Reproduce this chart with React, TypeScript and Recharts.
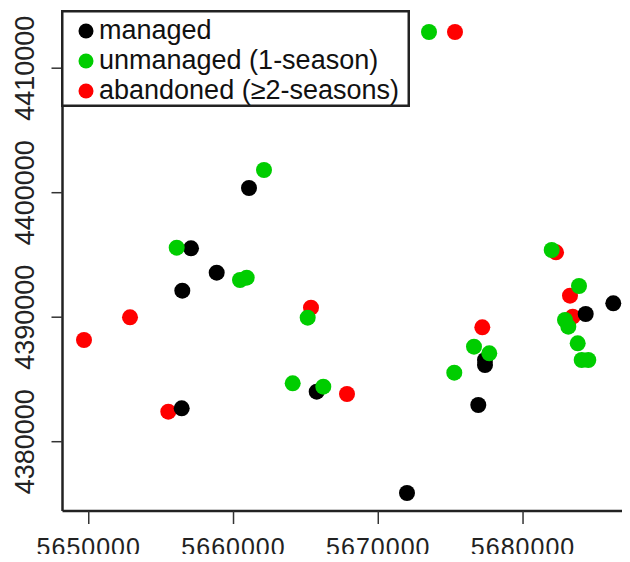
import React from 'react';
import { ScatterChart, Scatter, XAxis, YAxis, Legend } from 'recharts';

// Site coordinates (easting, northing) for each management class
const managedSites: [number, number][] = [
  [5661069, 4400377],
  [5657063, 4395534],
  [5658838, 4393574],
  [5656462, 4392128],
  [5656420, 4382683],
  [5665746, 4384016],
  [5671984, 4375880],
  [5676909, 4382948],
  [5677372, 4386160],
  [5677372, 4386562],
  [5684329, 4390257],
  [5686235, 4391116],
];

const unmanagedSites: [number, number][] = [
  [5673504, 4412907],
  [5662106, 4401823],
  [5656075, 4395582],
  [5660448, 4392988],
  [5660911, 4393172],
  [5665124, 4389960],
  [5664088, 4384691],
  [5666202, 4384418],
  [5675251, 4385542],
  [5676612, 4387630],
  [5677669, 4387100],
  [5681980, 4395397],
  [5683866, 4392506],
  [5682899, 4389775],
  [5683127, 4389237],
  [5683776, 4387903],
  [5684052, 4386562],
  [5684508, 4386562],
];

const abandonedSites: [number, number][] = [
  [5675300, 4412907],
  [5649671, 4388169],
  [5652849, 4389992],
  [5655495, 4382410],
  [5665352, 4390763],
  [5667839, 4383831],
  [5677186, 4389189],
  [5682277, 4395213],
  [5683244, 4391727],
  [5683431, 4390040],
];

const seriesNames = ['managed', 'unmanaged (1-season)', 'abandoned (\u22652-seasons)'];
const seriesColors = ['#000000', '#00CD00', '#FF0000'];

const eastingTicks = [5650000, 5660000, 5670000, 5680000];
const northingTicks = [4380000, 4390000, 4400000, 4410000];

const eastingDomain: [number, number] = [5648186, 5687700];
const northingDomain: [number, number] = [4374434, 4414594];

const FONT = '"Liberation Sans", Arial, Helvetica, sans-serif';
const AXIS_COLOR = '#222222';

const toPoints = (sites: [number, number][]) => sites.map(([x, y]) => ({ x, y }));

const dot = (color: string) => (props: any) => (
  <circle cx={props.cx} cy={props.cy} r={8} fill={color} />
);

const EastingTick = (props: any) => {
  const { x, y, payload } = props;
  return (
    <text
      x={x}
      y={y}
      dy={30}
      textAnchor="middle"
      fontSize={25}
      letterSpacing={1}
      fontFamily={FONT}
      fill="#222"
    >
      {payload.value}
    </text>
  );
};

const NorthingTick = (props: any) => {
  const { x, y, payload } = props;
  const bx = x - 15.5;
  return (
    <text
      x={bx}
      y={y}
      transform={`rotate(-90, ${bx}, ${y})`}
      textAnchor="middle"
      fontSize={27}
      fontFamily={FONT}
      fill="#222"
    >
      {payload.value}
    </text>
  );
};

const LegendBox = () => (
  <svg width={349} height={97} style={{ display: 'block' }}>
    <rect x={1.25} y={1.25} width={346.5} height={94.5} fill="#fff" stroke={AXIS_COLOR} strokeWidth={2.5} />
    {seriesNames.map((name, i) => (
      <g key={name}>
        <circle cx={25} cy={21 + i * 30} r={7.5} fill={seriesColors[i]} />
        <text x={38} y={29 + i * 30} fontSize={27} fontFamily={FONT} fill="#111">
          {name}
        </text>
      </g>
    ))}
  </svg>
);

export default function App() {
  return (
    <div style={{ margin: -8, width: 630, height: 562, overflow: 'hidden', background: '#fff' }}>
      <ScatterChart width={650} height={562} margin={{ top: 11, right: 15.5, bottom: 0, left: 0 }}>
        <XAxis
          xAxisId={0}
          type="number"
          dataKey="x"
          domain={eastingDomain}
          allowDataOverflow
          ticks={eastingTicks}
          interval={0}
          height={51}
          tickSize={13}
          tickLine={{ stroke: '#333', strokeWidth: 1.5 }}
          axisLine={{ stroke: AXIS_COLOR, strokeWidth: 2.5 }}
          tick={<EastingTick />}
        />
        <XAxis
          xAxisId="top"
          orientation="top"
          type="number"
          dataKey="x"
          domain={eastingDomain}
          allowDataOverflow
          height={0}
          tick={false}
          tickLine={false}
          axisLine={{ stroke: AXIS_COLOR, strokeWidth: 2.5 }}
        />
        <YAxis
          yAxisId={0}
          type="number"
          dataKey="y"
          domain={northingDomain}
          allowDataOverflow
          ticks={northingTicks}
          interval={0}
          width={62.5}
          tickSize={11}
          tickLine={{ stroke: '#333', strokeWidth: 1.5 }}
          axisLine={{ stroke: AXIS_COLOR, strokeWidth: 2.5 }}
          tick={<NorthingTick />}
        />
        <Legend
          layout="vertical"
          align="center"
          verticalAlign="middle"
          content={() => <LegendBox />}
          wrapperStyle={{ top: 10, left: 61, width: 349, height: 97 }}
        />
        <Scatter
          name={seriesNames[2]}
          data={toPoints(abandonedSites)}
          fill={seriesColors[2]}
          shape={dot(seriesColors[2])}
          isAnimationActive={false}
        />
        <Scatter
          name={seriesNames[0]}
          data={toPoints(managedSites)}
          fill={seriesColors[0]}
          shape={dot(seriesColors[0])}
          isAnimationActive={false}
        />
        <Scatter
          name={seriesNames[1]}
          data={toPoints(unmanagedSites)}
          fill={seriesColors[1]}
          shape={dot(seriesColors[1])}
          isAnimationActive={false}
        />
      </ScatterChart>
    </div>
  );
}
